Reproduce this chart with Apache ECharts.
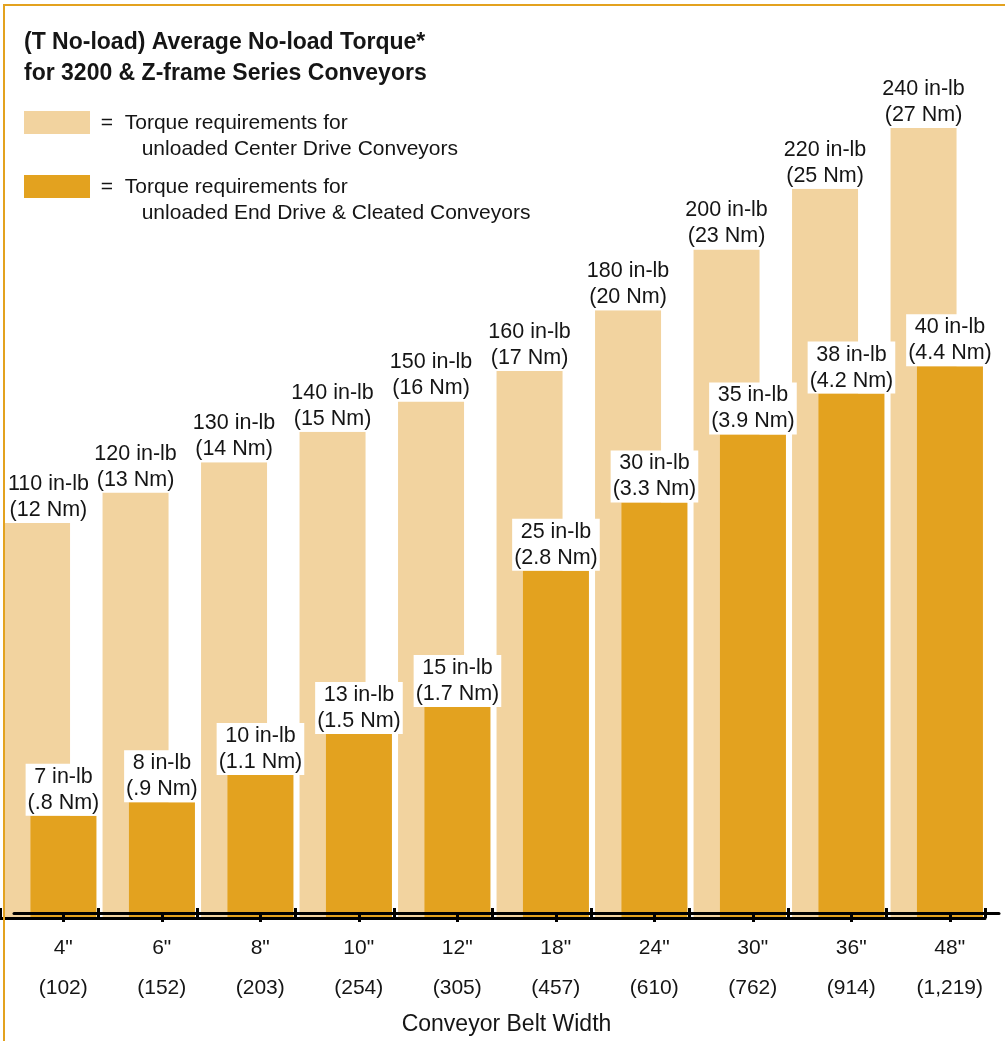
<!DOCTYPE html>
<html>
<head>
<meta charset="utf-8">
<title>Average No-load Torque</title>
<script src="https://cdn.jsdelivr.net/npm/echarts@6/dist/echarts.min.js"></script>
<style>
  html, body { margin: 0; padding: 0; background: #fff; }
  #chart { position: absolute; left: 0; top: 0; width: 1005px; height: 1041px; }
  /* orange frame, top and left edges only */
  #frame { position: absolute; left: 3px; top: 4px; right: 0; bottom: 0;
           border-top: 2px solid #e3a21f; border-left: 2px solid #e3a21f; pointer-events: none; }
</style>
</head>
<body>
<div id="chart"></div>
<div id="frame"></div>
<script>
// belt widths (inch / mm)
const beltWidths = ['4"', '6"', '8"', '10"', '12"', '18"', '24"', '30"', '36"', '48"'];
const beltWidthsMm = ['(102)', '(152)', '(203)', '(254)', '(305)', '(457)', '(610)', '(762)', '(914)', '(1,219)'];

// center drive conveyors
const centerDriveInLb = [110, 120, 130, 140, 150, 160, 180, 200, 220, 240];
const centerDriveNm = ['12', '13', '14', '15', '16', '17', '20', '23', '25', '27'];

// end drive & cleated conveyors
const endDriveInLb = [7, 8, 10, 13, 15, 25, 30, 35, 38, 40];
const endDriveNm = ['.8', '.9', '1.1', '1.5', '1.7', '2.8', '3.3', '3.9', '4.2', '4.4'];

const FONT = "'Liberation Sans', Arial, Helvetica, sans-serif";
const INK = '#151515';
const LIGHT = '#f2d39f';
const DARK = '#e3a21f';

const GRID_TOP = 128;
const GRID_BOTTOM = 123;

const barLabel = (inlb, nm) => ({
  show: true,
  position: 'top',
  distance: 0,
  fontFamily: FONT,
  fontSize: 21.5,
  lineHeight: 26,
  color: INK,
  backgroundColor: '#fff',
  padding: [0, 2, 0, 2],
  formatter: p => `${inlb[p.dataIndex]} in-lb\n(${nm[p.dataIndex]} Nm)`
});

// keep labels inside the left edge of the frame
const keepInside = p => ({ dx: Math.max(0, 6 - p.labelRect.x) });

const chart = echarts.init(document.getElementById('chart'), null, { renderer: 'canvas' });

chart.setOption({
  animation: false,
  backgroundColor: '#fff',
  textStyle: { fontFamily: FONT, color: INK },
  title: {
    text: '(T No-load) Average No-load Torque*\nfor 3200 & Z-frame Series Conveyors',
    left: 24,
    top: 27,
    padding: 0,
    textStyle: { fontFamily: FONT, fontSize: 23, fontWeight: 'bold', lineHeight: 31, color: INK }
  },
  legend: {
    orient: 'vertical',
    left: 24,
    top: 110,
    padding: 0,
    itemWidth: 66,
    itemHeight: 50,
    itemGap: 12,
    selectedMode: false,
    // swatch sits on the first text line: a 23px block plus an empty subpath to hold the box
    icon: 'path://M0,0H66V23H0Z M0,50H66',
    data: ['Center Drive', 'End Drive & Cleated'],
    formatter: name => name === 'Center Drive'
      ? ' =  Torque requirements for\n        unloaded Center Drive Conveyors'
      : ' =  Torque requirements for\n        unloaded End Drive & Cleated Conveyors',
    textStyle: { fontFamily: FONT, fontSize: 21, lineHeight: 26, color: INK }
  },
  grid: [
    { left: 1, width: 985, top: GRID_TOP, bottom: GRID_BOTTOM },   // bars
    { left: 0, width: 985, top: GRID_TOP, bottom: GRID_BOTTOM },   // boundary ticks
    { left: 14, width: 985, top: GRID_TOP, bottom: GRID_BOTTOM }   // labels under dark bars
  ],
  xAxis: [
    { type: 'category', gridIndex: 0, data: beltWidths, show: false },
    {
      type: 'category', gridIndex: 1, data: beltWidths, z: 10,
      axisLine: { show: true, onZero: false, lineStyle: { color: '#000', width: 3 } },
      axisTick: { show: true, inside: true, length: 10, interval: 0, lineStyle: { color: '#000', width: 3 } },
      axisLabel: { show: false }
    },
    {
      type: 'category', gridIndex: 2, data: beltWidths, z: 10,
      axisLine: { show: true, onZero: false, lineStyle: { color: '#000', width: 3 } },
      axisTick: { show: true, alignWithLabel: true, length: 9, interval: 0, lineStyle: { color: '#000', width: 3 } },
      axisLabel: {
        interval: 0,
        margin: 15,
        fontFamily: FONT,
        fontSize: 21,
        lineHeight: 40,
        color: INK,
        formatter: (v, i) => `${v}\n${beltWidthsMm[i]}`
      },
      name: 'Conveyor Belt Width',
      nameLocation: 'middle',
      nameGap: 86,
      nameTextStyle: { fontFamily: FONT, fontSize: 23, color: INK }
    }
  ],
  yAxis: [
    { type: 'value', gridIndex: 0, min: -20, max: 240, startValue: -20, show: false },
    { type: 'value', gridIndex: 0, min: -0.5, max: 57.5, startValue: -0.5, show: false },
    { type: 'value', gridIndex: 1, min: 0, max: 1, show: false },
    { type: 'value', gridIndex: 2, min: 0, max: 1, show: false }
  ],
  series: [
    {
      name: 'Center Drive',
      type: 'bar',
      xAxisIndex: 0,
      yAxisIndex: 0,
      z: 2,
      barWidth: 66,
      barGap: '-60%',
      itemStyle: { color: LIGHT },
      label: barLabel(centerDriveInLb, centerDriveNm),
      labelLayout: keepInside,
      data: centerDriveInLb
    },
    {
      name: 'End Drive & Cleated',
      type: 'bar',
      xAxisIndex: 0,
      yAxisIndex: 1,
      z: 3,
      barWidth: 66,
      barGap: '-60%',
      itemStyle: { color: DARK },
      label: barLabel(endDriveInLb, endDriveNm),
      labelLayout: keepInside,
      data: endDriveInLb
    }
  ]
});
</script>
</body>
</html>
